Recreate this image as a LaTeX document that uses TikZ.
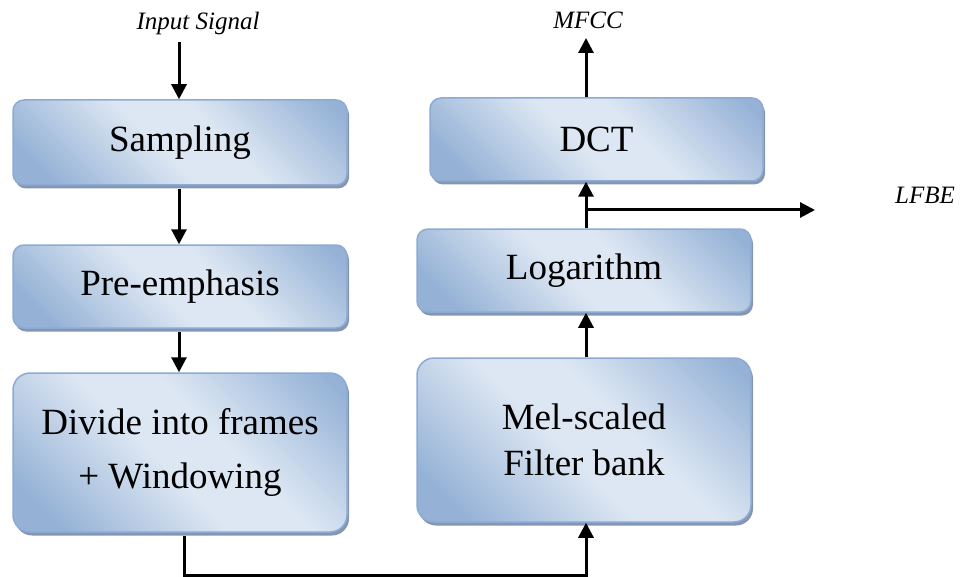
\documentclass[tikz,border=0pt]{standalone}
\usepackage{fontspec}
\setmainfont{Liberation Serif}
\usetikzlibrary{arrows.meta,shadows}

\definecolor{boxdark}{RGB}{149,178,214}
\definecolor{boxlight}{RGB}{221,231,243}
\definecolor{boxborder}{RGB}{141,170,212}
\definecolor{boxshadow}{RGB}{132,150,176}
\pgfdeclareverticalshading{boxshade}{100bp}{color(0bp)=(boxdark); color(22bp)=(boxdark); color(46bp)=(boxlight); color(58bp)=(boxlight); color(82bp)=(boxdark); color(100bp)=(boxdark)}

\tikzset{
  block/.style={draw=boxborder, line width=1.5pt, rounded corners=11pt, shading=boxshade, shading angle=-45,
    minimum width=334pt, align=center, inner sep=0pt,
    font=\fontsize{37}{46}\selectfont,
    drop shadow={shadow xshift=2pt, shadow yshift=-3.5pt, fill=boxshadow, opacity=1}},
  bigblock/.style={block, rounded corners=17pt},
  lbl/.style={font=\fontsize{25}{28}\selectfont\itshape},
  arr/.style={line width=3pt, -{Triangle[length=15pt,width=15pt]}}
}

\begin{document}
\begin{tikzpicture}[x=1pt, y=-1pt]
    % Page frame
    \useasboundingbox (0,0) rectangle (965,577);

    % Left column
    \node[block, minimum height=85pt] (sampling) at (180,142.5) {Sampling};
    \node[block, minimum height=83pt] (preemph) at (180,286.5) {Pre-emphasis};
    \node[bigblock, minimum height=159pt] (divide) at (180,452.5) {Divide into frames\\[8pt]+ Windowing};

    % Right column
    \node[block, minimum width=333pt, minimum height=83pt] (dct) at (596.5,139.5) {DCT};
    \node[block, minimum height=83pt] (logarithm) at (584,270.5) {Logarithm};
    \node[bigblock, minimum height=164pt] (mel) at (584,440) {Mel-scaled\\Filter bank};

    % Labels
    \node[lbl] (input) at (198,23) {Input Signal};
    \node[lbl] (mfcc) at (588,20) {MFCC};
    \node[lbl] (lfbe) at (925,195) {LFBE};

    % Helper coordinates
    \coordinate (inTop) at (179,42);
    \coordinate (bend) at (184,575);
    \coordinate (rx) at (586,0);
    \coordinate (lfbeTip) at (815,210);
    \coordinate (mfccTip) at (586,38);

    % Connectors
    \draw[arr] (inTop) -- (inTop |- sampling.north);
    \draw[arr] (sampling.south -| inTop) ++(0,3) -- (preemph.north -| inTop);
    \draw[arr] (preemph.south -| inTop) ++(0,3) -- (divide.north -| inTop);
    \draw[arr] (divide.south -| bend) ++(0,3) -- (bend) -- (bend -| rx) -- (mel.south -| rx);
    \draw[arr] (mel.north -| rx) -- (logarithm.south -| rx);
    \draw[arr] (logarithm.north -| rx) -- (dct.south -| rx);
    \draw[arr] (rx |- lfbeTip) -- (lfbeTip);
    \draw[arr] (dct.north -| rx) -- (mfccTip);
\end{tikzpicture}
\end{document}
